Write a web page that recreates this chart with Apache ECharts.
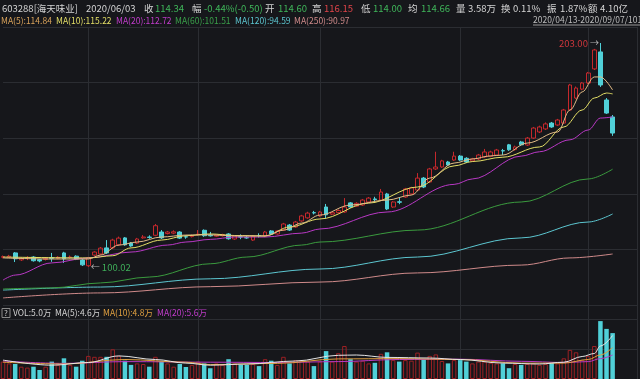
<!DOCTYPE html>
<html><head><meta charset="utf-8">
<script src="https://cdn.jsdelivr.net/npm/echarts@6/dist/echarts.min.js"></script>
<style>html,body{margin:0;padding:0;background:#16171b;}#c{width:640px;height:379px;}</style>
</head><body><div id="c"></div>
<script>
const dates = [
 '2020/04/13','2020/04/14','2020/04/15','2020/04/16','2020/04/17','2020/04/20','2020/04/21','2020/04/22','2020/04/23','2020/04/24','2020/04/27','2020/04/28','2020/04/29','2020/04/30',
 '2020/05/06','2020/05/07','2020/05/08','2020/05/11','2020/05/12','2020/05/13','2020/05/14','2020/05/15','2020/05/18','2020/05/19','2020/05/20','2020/05/21','2020/05/22','2020/05/25','2020/05/26','2020/05/27','2020/05/28','2020/05/29',
 '2020/06/01','2020/06/02','2020/06/03','2020/06/04','2020/06/05','2020/06/08','2020/06/09','2020/06/10','2020/06/11','2020/06/12','2020/06/15','2020/06/16','2020/06/17','2020/06/18','2020/06/19','2020/06/22','2020/06/23','2020/06/24','2020/06/29','2020/06/30',
 '2020/07/01','2020/07/02','2020/07/03','2020/07/06','2020/07/07','2020/07/08','2020/07/09','2020/07/10','2020/07/13','2020/07/14','2020/07/15','2020/07/16','2020/07/17','2020/07/20','2020/07/21','2020/07/22','2020/07/23','2020/07/24','2020/07/27','2020/07/28','2020/07/29','2020/07/30','2020/07/31',
 '2020/08/03','2020/08/04','2020/08/05','2020/08/06','2020/08/07','2020/08/10','2020/08/11','2020/08/12','2020/08/13','2020/08/14','2020/08/17','2020/08/18','2020/08/19','2020/08/20','2020/08/21','2020/08/24','2020/08/25','2020/08/26','2020/08/27','2020/08/28','2020/08/31',
 '2020/09/01','2020/09/02','2020/09/03','2020/09/04','2020/09/07',
 '2020/09/08','2020/09/09','2020/09/10','2020/09/11'
];
const monthLines = [14, 32, 52, 75, 96, 104];

const open  = [104.5,104.6,106.5,103.3,104.2,104.6,103.4,103.5,104.3,104.0,106.5,104.4,105.0,103.2,100.6,105.5,106.0,108.8,108.8,110.2,113.4,111.0,111.0,113.4,113.8,114.6,116.1,115.4,115.6,116.1,113.9,114.0,115.0,116.9,114.60,114.2,114.4,115.2,112.9,113.9,113.5,112.4,114.5,114.3,116.6,115.2,117.0,119.3,118.4,121.2,122.6,125.0,123.5,127.6,124.3,125.0,125.3,129.5,128.0,128.5,129.9,131.3,130.8,133.6,127.6,130.0,132.2,133.6,135.4,140.9,139.1,145.1,146.0,148.3,149.2,151.0,150.0,148.8,149.7,150.6,150.9,151.5,153.5,156.2,154.0,157.5,156.1,159.3,162.1,163.5,166.2,165.3,166.2,172.2,177.7,181.8,184.6,191.1,198.9,176.8,169.0];
const close = [104.8,105.0,103.8,103.9,104.3,102.9,102.8,104.0,104.0,104.5,103.8,104.6,103.7,101.0,104.2,106.9,108.7,106.5,112.4,113.3,110.2,109.7,112.9,113.8,113.6,119.0,113.4,116.1,116.2,113.3,113.8,114.4,115.1,114.4,114.34,114.7,114.9,113.0,114.3,113.8,113.4,114.2,114.4,116.1,115.2,116.6,119.8,117.0,120.7,123.5,124.8,124.9,125.3,124.0,125.0,126.0,127.6,127.6,129.3,130.8,131.7,131.0,134.5,126.7,129.9,129.8,135.9,136.4,140.9,136.8,145.1,146.0,148.8,146.9,151.0,149.2,148.3,149.7,151.5,152.9,152.9,153.8,153.4,153.9,155.2,156.2,159.3,163.9,164.4,165.8,164.4,167.6,172.2,183.7,182.3,184.6,189.2,199.8,183.7,170.8,161.6];
const low   = [104.0,104.2,102.3,102.8,103.2,102.5,102.2,103.0,102.4,103.6,101.9,103.8,103.2,100.5,100.02,105.0,105.6,106.0,108.3,109.7,109.8,109.3,110.6,113.0,113.0,114.2,112.9,115.0,115.1,112.9,113.0,113.6,114.5,113.9,114.00,113.8,114.0,112.6,112.5,112.8,113.0,112.0,113.6,113.9,114.8,114.9,116.6,116.6,118.0,120.8,122.2,124.2,123.0,122.4,123.9,124.6,124.9,127.2,127.6,128.1,129.5,130.3,130.4,126.2,127.2,128.9,131.8,133.2,135.0,136.3,138.6,144.6,145.6,146.5,148.8,148.8,147.9,148.3,149.2,150.2,150.5,151.1,151.5,153.4,153.5,155.7,155.7,158.9,161.6,163.0,164.0,164.9,165.8,171.8,177.2,181.3,184.1,190.6,182.8,170.4,160.3];
const high  = [105.3,105.6,106.9,104.3,105.0,105.0,103.7,104.6,106.5,105.0,107.0,105.3,105.4,103.6,104.6,107.3,109.2,112.4,113.0,114.0,113.8,111.5,113.4,114.7,114.6,119.8,117.0,116.6,116.9,116.5,114.5,114.9,117.0,117.3,116.15,115.0,115.3,115.6,114.7,115.0,114.3,114.6,115.5,116.6,117.0,117.0,120.3,119.8,121.2,124.0,125.4,125.8,125.8,129.0,125.4,126.5,131.7,129.9,129.8,131.3,132.2,132.3,135.9,134.1,130.3,132.2,136.4,136.9,143.2,141.4,145.6,153.0,149.3,148.8,153.0,151.5,150.5,150.2,152.0,154.3,153.5,154.3,154.3,156.6,155.8,158.0,159.8,164.4,165.0,166.5,166.7,168.1,172.7,184.2,183.0,185.1,189.7,200.3,203.0,177.7,169.9];

const volume = [5.8,5.2,5.0,4.1,3.8,4.1,3.0,4.1,5.8,4.7,6.9,4.7,4.1,6.1,7.7,7.4,7.4,7.4,9.9,7.7,6.1,4.7,5.2,5.0,4.1,7.4,5.8,5.2,4.1,5.0,4.0,4.7,5.8,5.2,3.58,5.2,4.7,6.6,5.2,4.7,4.7,5.0,4.3,6.6,6.1,4.7,7.4,5.2,6.3,6.1,5.8,4.3,5.8,9.3,5.8,8.6,11.0,6.6,5.8,6.1,5.2,5.4,8.4,8.9,6.3,5.8,6.3,6.1,8.8,6.6,7.7,8.2,6.0,5.2,6.3,6.3,5.8,5.2,5.8,5.8,5.4,5.2,5.2,3.6,5.0,4.7,5.0,5.2,4.7,5.0,5.4,5.2,6.9,9.7,8.9,6.3,7.7,11.0,19.3,16.7,15.3];

const ma5   = [[0,104.2],[8,103.7],[14,103.7],[16,105.5],[19,110.1],[22,111.5],[26,113.8],[30,114.7],[34,114.84],[38,114.3],[43,114.3],[46,117.0],[49,120.2],[52,123.9],[57,128.5],[63,130.8],[67,133.1],[70,140.9],[74,147.8],[77,149.7],[80,151.1],[82,151.5],[86,157.0],[91,162.1],[93,172.2],[95,180.5],[97,187.4],[98,187.4],[100,181.4]];
const ma10  = [[0,104.6],[14,104.2],[18,105.2],[21,108.8],[26,112.4],[30,114.4],[34,115.22],[38,114.5],[43,114.3],[47,118.4],[52,122.1],[60,129.4],[68,136.8],[74,146.5],[77,148.5],[82,150.5],[88,155.2],[92,164.4],[95,172.2],[97,177.7],[99,180.0],[100,179.6]];
const ma20  = [[0,94.0],[2,96.3],[8,101.9],[14,104.2],[21,106.9],[27,110.1],[30,111.5],[34,112.72],[38,113.8],[43,113.8],[49,115.6],[52,117.5],[63,125.3],[74,138.0],[77,140.5],[85,151.0],[88,153.0],[93,158.5],[96,163.0],[98,168.5],[100,169.0]];
const ma60  = [[0,89.9],[8,90.4],[16,92.7],[24,95.4],[34,101.51],[40,104.6],[49,110.1],[52,111.5],[68,117.0],[85,129.9],[96,140.5],[100,145.0]];
const ma120 = [[0,89.4],[16,90.8],[34,94.59],[52,99.1],[68,104.6],[85,113.4],[96,120.7],[100,124.4]];
const ma250 = [[0,85.8],[16,88.1],[34,90.97],[52,93.1],[68,97.3],[85,100.9],[93,104.2],[100,106.0]];

const vma5  = [[0,6.3],[8,4.6],[14,5.5],[19,7.7],[25,6.5],[30,5.3],[34,4.6],[40,5.0],[48,6.0],[55,7.9],[58,8.0],[63,7.2],[70,7.0],[75,6.5],[82,5.3],[88,5.0],[92,5.6],[95,7.5],[97,8.5],[98,11.0],[100,14.5]];
const vma10 = [[0,5.6],[10,5.0],[20,6.5],[30,5.6],[34,4.8],[45,5.2],[55,6.7],[65,6.8],[75,6.5],[85,5.3],[92,5.3],[96,6.5],[98,8.0],[100,10.5]];
const vma20 = [[0,6.0],[10,5.2],[20,5.8],[34,5.6],[45,5.5],[55,5.8],[65,6.5],[75,6.6],[85,5.9],[92,5.5],[96,5.8],[98,6.8],[100,8.0]];

const headerLine1 = [
 ['603288[海天味业]','#d4d4d4'],['2020/06/03','#d4d4d4'],['收','#d4d4d4'],['114.34','#3fb65a'],
 ['幅','#d4d4d4'],['-0.44%(-0.50)','#3fb65a'],['开','#d4d4d4'],['114.60','#3fb65a'],
 ['高','#d4d4d4'],['116.15','#e0444a'],['低','#d4d4d4'],['114.00','#3fb65a'],
 ['均','#d4d4d4'],['114.66','#3fb65a'],['量','#d4d4d4'],['3.58万','#d4d4d4'],
 ['换','#d4d4d4'],['0.11%','#d4d4d4'],['振','#d4d4d4'],['1.87%','#d4d4d4'],
 ['额','#d4d4d4'],['4.10亿','#d4d4d4']
];
const headerLine1X = [2,86,144,155,192,204,265,278,312,324,361,373,408,421,456,468,501,513,547,560,588,600];
const maLegend = [['MA(5):114.84','#d8a25a'],['MA(10):115.22','#e4df66'],['MA(20):112.72','#c23ccc'],['MA(60):101.51','#3aa04a'],['MA(120):94.59','#5cc6d0'],['MA(250):90.97','#cf8a8a']];
const maLegendX = [1,56,116,175,235,294];
const rangeText = '2020/04/13-2020/09/07/101';
const volLegend = [['VOL:5.0万','#d4d4d4'],['MA(5):4.6万','#d4d4d4'],['MA(10):4.8万','#e0a040'],['MA(20):5.6万','#c23ccc']];
const volLegendX = [13,55,103,157];

const FONT = '"Noto Sans CJK SC", "Noto Sans", sans-serif';
const RED = '#c4282c', CYAN = '#50d0d8', GRID = '#2b2d32';

const ohlc = open.map((o,i)=>[o, close[i], low[i], high[i]]);
const volData = volume.map((v,i)=>({
  value: v,
  itemStyle: close[i] >= open[i]
    ? {color:'rgba(0,0,0,0)', borderColor:'#9c2024', borderWidth:1}
    : {color:CYAN}
}));

function txt(x, y, text, fill, size){
  return {type:'text', x:x, y:y, silent:true, z:100,
    style:{text:text, fill:fill, fontSize:size, fontFamily:FONT, verticalAlign:'middle', textVerticalAlign:'middle'}};
}
const graphics = [];
headerLine1.forEach((h,i)=>graphics.push(txt(headerLine1X[i], 8, h[0], h[1], 9.5)));
maLegend.forEach((h,i)=>graphics.push(txt(maLegendX[i], 21, h[0], h[1], 8.5)));
graphics.push(txt(533, 20, rangeText, '#bcbcbc', 8.5));
graphics.push({type:'line', silent:true, shape:{x1:533,y1:25,x2:640,y2:25}, style:{stroke:'#9a9a9a', lineWidth:1}});
graphics.push({type:'rect', silent:true, shape:{x:2,y:308.5,width:8,height:9}, style:{fill:'rgba(0,0,0,0)', stroke:'#8a8a8a', lineWidth:1}});
graphics.push(txt(4, 313, '?', '#c8c8c8', 8));
volLegend.forEach((h,i)=>graphics.push(txt(volLegendX[i], 313, h[0], h[1], 8.5)));

const splitX = {show:true, interval:(idx)=>monthLines.indexOf(idx) >= 0, lineStyle:{color:GRID, width:1}};

function maLine(data, color, xi, yi){
  return {type:'line', data:data, xAxisIndex:xi, yAxisIndex:yi, symbol:'none', showSymbol:false,
    smooth:0.35, smoothMonotone:'x', lineStyle:{color:color, width:1}, itemStyle:{color:color}, silent:true, z:3};
}

const option = {
  backgroundColor:'#16171b',
  animation:false,
  graphic: graphics,
  grid:[
    {left:3, right:3, top:27, height:278},
    {left:3, right:3, top:305, height:74}
  ],
  xAxis:[
    {type:'category', gridIndex:0, data:dates, boundaryGap:false, axisLine:{show:false}, axisTick:{show:false}, axisLabel:{show:false}, splitLine:splitX},
    {type:'category', gridIndex:1, data:dates, boundaryGap:false, axisLine:{show:false}, axisTick:{show:false}, axisLabel:{show:false}, splitLine:splitX}
  ],
  yAxis:[
    {type:'value', gridIndex:0, min:82.55, max:210.36, axisLine:{show:false}, axisTick:{show:false}, axisLabel:{show:false}, splitLine:{show:false}},
    {type:'value', gridIndex:0, min:0, max:5, interval:1, position:'right', axisLine:{show:false}, axisTick:{show:false}, axisLabel:{show:false}, splitLine:{show:true, lineStyle:{color:GRID}}},
    {type:'value', gridIndex:1, min:0, max:24.667, interval:10, axisLine:{show:false}, axisTick:{show:false}, axisLabel:{show:false}, splitLine:{show:true, lineStyle:{color:GRID}}}
  ],
  series:[
    {type:'candlestick', xAxisIndex:0, yAxisIndex:0, data:ohlc, barWidth:4.2, silent:true, z:2,
      itemStyle:{color:'rgba(0,0,0,0)', color0:CYAN, borderColor:RED, borderColor0:CYAN, borderWidth:1},
      markPoint:{
        symbol:'circle', symbolSize:1, itemStyle:{color:'rgba(0,0,0,0)'}, silent:true,
        data:[
          {type:'max', valueDim:'highest', label:{show:true, position:'left', distance:1,
            formatter:(p)=>'{a|'+Number(p.value).toFixed(2)+'}{b| →}',
            rich:{a:{color:'#d0363c', fontSize:9.5, fontFamily:FONT}, b:{color:'#b0b0b0', fontSize:9, fontFamily:FONT}}}},
          {type:'min', valueDim:'lowest', label:{show:true, position:'right', distance:2,
            formatter:(p)=>'{b|← }{a|'+Number(p.value).toFixed(2)+'}',
            rich:{a:{color:'#3fae5a', fontSize:9.5, fontFamily:FONT}, b:{color:'#b0b0b0', fontSize:9, fontFamily:FONT}}}}
        ]
      }
    },
    maLine(ma250, '#cf8a8a', 0, 0),
    maLine(ma120, '#5cc6d0', 0, 0),
    maLine(ma60, '#3a9a3e', 0, 0),
    maLine(ma20, '#b838c4', 0, 0),
    maLine(ma10, '#e4df66', 0, 0),
    maLine(ma5, '#e2bb86', 0, 0),
    {type:'bar', xAxisIndex:1, yAxisIndex:2, data:volData, barWidth:4.5, silent:true},
    maLine(vma20, '#b838c4', 1, 2),
    maLine(vma10, '#e0a040', 1, 2),
    maLine(vma5, '#e6e6e6', 1, 2)
  ]
};
const chart = echarts.init(document.getElementById('c'), null, {renderer:'canvas'});
chart.setOption(option);
</script>
</body></html>
